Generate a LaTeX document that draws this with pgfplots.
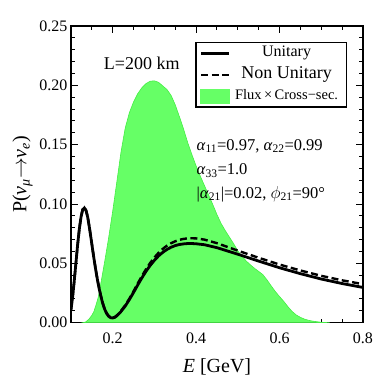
\documentclass[border=0pt]{standalone}
\usepackage{fontspec}
\setmainfont{Liberation Serif}
\usepackage{pgfplots}
\pgfplotsset{compat=1.18}
\definecolor{fluxgreen}{HTML}{66FF66}
\definecolor{fluxedge}{HTML}{44EE44}
\newcommand{\fs}[1]{\fontsize{#1}{#1}\selectfont}

\begin{document}
\begin{tikzpicture}
\begin{axis}[
  scale only axis, width=292pt, height=296.7pt,
  xmin=0.1, xmax=0.8, ymin=0, ymax=0.25,
  xtick={0.2,0.4,0.6,0.8},
  minor xtick={0.15,0.25,0.3,0.35,0.45,0.5,0.55,0.65,0.7,0.75},
  ytick={0,0.05,0.1,0.15,0.2,0.25},
  yticklabels={0.00,0.05,0.10,0.15,0.20,\raisebox{-5pt}{0.25}},
  minor y tick num=4,
  tick align=inside,
  major tick length=7pt, minor tick length=4pt,
  every tick/.style={line width=1pt, black},
  axis line style={line width=1.4pt},
  tick label style={font=\fs{16}},
  /pgf/number format/assume math mode=true,
  xticklabel style={yshift=-7pt, /pgf/number format/fixed, /pgf/number format/fixed zerofill, /pgf/number format/precision=1},
  xlabel={\textit{E} [GeV]},
  ylabel={P(\textit{ν}\textsubscript{\textit{μ}}$\rightarrow$\textit{ν}\textsubscript{\textit{e}})},
  label style={font=\fs{20}},
  xlabel style={inner sep=0pt, yshift=-11pt},
  legend style={at={(0.4247,0.9465)}, anchor=north west, draw=black, line width=1.6pt,
    inner xsep=4pt, inner ysep=0pt, row sep=0pt,
    nodes={inner sep=0pt, text height=14pt, text depth=7.5pt}},
]
% flux x cross-section (arbitrary units)
\addplot[fill=fluxgreen, draw=fluxedge, line width=0.6pt, forget plot] table {
x y
0.128 0.0000
0.135 0.0006
0.143 0.0030
0.150 0.0062
0.155 0.0095
0.160 0.0150
0.165 0.0210
0.170 0.0300
0.175 0.0400
0.180 0.0500
0.190 0.0710
0.200 0.0940
0.210 0.1190
0.220 0.1440
0.230 0.1640
0.240 0.1770
0.250 0.1860
0.260 0.1930
0.270 0.1980
0.280 0.2015
0.290 0.2035
0.300 0.2038
0.310 0.2025
0.320 0.1995
0.330 0.1965
0.340 0.1915
0.350 0.1835
0.360 0.1735
0.370 0.1630
0.380 0.1515
0.390 0.1415
0.400 0.1320
0.410 0.1235
0.420 0.1155
0.430 0.1075
0.440 0.0995
0.450 0.0910
0.460 0.0835
0.470 0.0775
0.480 0.0720
0.490 0.0665
0.500 0.0605
0.510 0.0560
0.520 0.0520
0.530 0.0488
0.540 0.0458
0.550 0.0432
0.560 0.0405
0.570 0.0360
0.580 0.0310
0.590 0.0262
0.600 0.0220
0.610 0.0180
0.620 0.0135
0.630 0.0095
0.640 0.0065
0.650 0.0045
0.660 0.0030
0.670 0.0020
0.680 0.0013
0.690 0.0008
0.700 0.0004
0.720 0.0000
} \closedcycle;
% non unitary
\addplot[black, line width=2.4pt, dash pattern=on 7pt off 3.5pt, forget plot] table {
x y
0.100 0.0110
0.104 0.0220
0.108 0.0360
0.112 0.0510
0.116 0.0660
0.120 0.0790
0.124 0.0892
0.128 0.0955
0.132 0.0970
0.136 0.0948
0.140 0.0893
0.144 0.0808
0.148 0.0713
0.152 0.0615
0.156 0.0521
0.160 0.0433
0.164 0.0353
0.168 0.0283
0.172 0.0221
0.176 0.0167
0.180 0.0123
0.185 0.0083
0.190 0.0058
0.195 0.0045
0.200 0.0043
0.205 0.0048
0.210 0.0062
0.215 0.0079
0.220 0.0100
0.230 0.0147
0.240 0.0203
0.250 0.0265
0.260 0.0331
0.270 0.0393
0.280 0.0452
0.290 0.0504
0.300 0.0550
0.310 0.0589
0.320 0.0622
0.330 0.0649
0.340 0.0670
0.350 0.0686
0.360 0.0699
0.370 0.0706
0.380 0.0711
0.390 0.0712
0.400 0.0710
0.420 0.0700
0.450 0.0670
0.500 0.0607
0.550 0.0547
0.600 0.0490
0.650 0.0440
0.700 0.0395
0.750 0.0357
0.800 0.0325
};
% unitary
\addplot[black, line width=2.8pt, forget plot] table {
x y
0.100 0.0110
0.104 0.0220
0.108 0.0360
0.112 0.0510
0.116 0.0660
0.120 0.0790
0.124 0.0890
0.128 0.0952
0.132 0.0967
0.136 0.0945
0.140 0.0890
0.144 0.0805
0.148 0.0710
0.152 0.0612
0.156 0.0518
0.160 0.0430
0.164 0.0350
0.168 0.0280
0.172 0.0218
0.176 0.0164
0.180 0.0120
0.185 0.0080
0.190 0.0055
0.195 0.0042
0.200 0.0040
0.205 0.0045
0.210 0.0058
0.215 0.0075
0.220 0.0095
0.230 0.0140
0.240 0.0195
0.250 0.0255
0.260 0.0318
0.270 0.0378
0.280 0.0434
0.290 0.0483
0.300 0.0526
0.310 0.0563
0.320 0.0593
0.330 0.0617
0.340 0.0636
0.350 0.0650
0.360 0.0659
0.370 0.0664
0.380 0.0667
0.390 0.0667
0.400 0.0665
0.420 0.0657
0.450 0.0632
0.500 0.0577
0.550 0.0519
0.600 0.0463
0.650 0.0413
0.700 0.0368
0.750 0.0330
0.800 0.0297
};
\addlegendimage{legend image code/.code={\draw[line width=2.8pt] (0pt,0pt) -- (28pt,0pt);}}
\addlegendentry{\makebox[112pt]{\fs{16}Unitary}}
\addlegendimage{legend image code/.code={\draw[line width=2.4pt, dash pattern=on 7pt off 3.3pt] (0pt,0pt) -- (28pt,0pt);}}
\addlegendentry{\makebox[112pt]{\fs{18}Non Unitary}}
\addlegendimage{legend image code/.code={\fill[fluxgreen] (0pt,-6.5pt) rectangle (28pt,6.5pt);}}
\addlegendentry{\makebox[112pt]{\fs{14.5}Flux\,×\,Cross−sec.}}

\node[font=\fs{18}] at (axis cs:0.2695,0.2188) {L=200 km};
\node[anchor=west, font=\fs{16.5}] at (axis cs:0.3926,0.1489)
  {\textit{α}\textsubscript{11}=0.97, \textit{α}\textsubscript{22}=0.99};
\node[anchor=west, font=\fs{16.5}] at (axis cs:0.3926,0.1282)
  {\textit{α}\textsubscript{33}=1.0};
\node[anchor=west, font=\fs{16.5}] at (axis cs:0.3926,0.1084)
  {|\textit{α}\textsubscript{21}|=0.02, $\phi$\textsubscript{21}=90°};
\end{axis}
\pgfresetboundingbox
\path (current axis.south west) ++(-71pt,-53.3pt) rectangle ++(376pt,376pt);
\end{tikzpicture}
\end{document}
